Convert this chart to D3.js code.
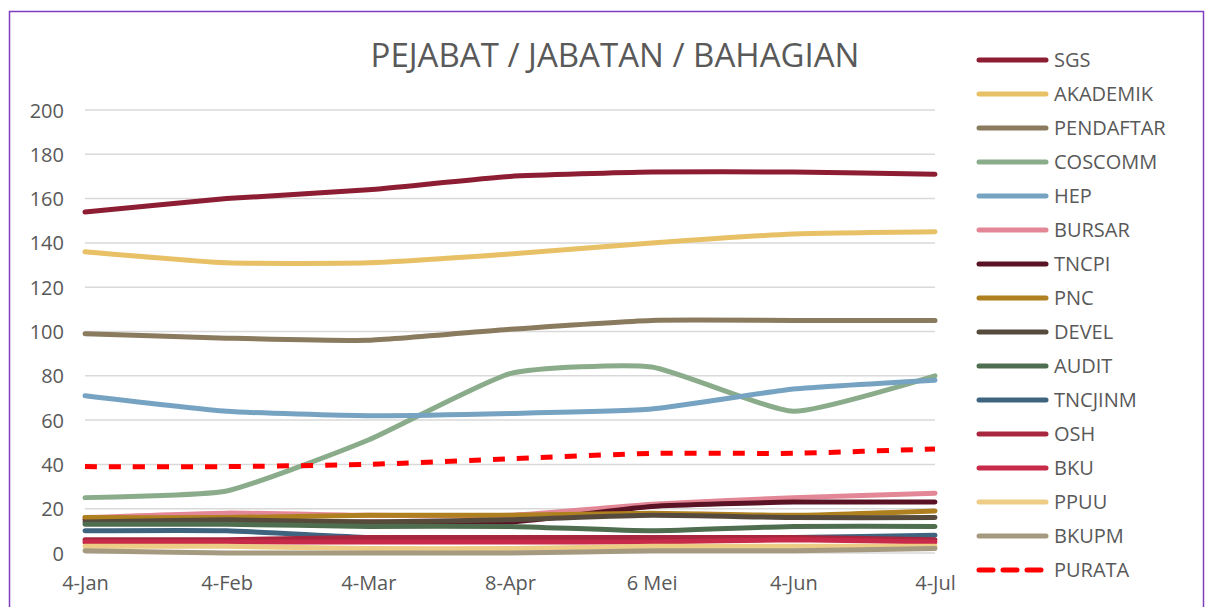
<!DOCTYPE html>
<html><head><meta charset="utf-8">
<script src="https://cdn.jsdelivr.net/npm/d3@7/dist/d3.min.js"></script>
<style>body{margin:0;background:#fff}svg{display:block}text{font-family:"Open Sans",sans-serif;fill:#595959}</style>
</head><body><svg id="c" width="1206" height="607"></svg>
<script>
const categories = ["4-Jan","4-Feb","4-Mar","8-Apr","6 Mei","4-Jun","4-Jul"];
const seriesNames = ["SGS","AKADEMIK","PENDAFTAR","COSCOMM","HEP","BURSAR","TNCPI","PNC","DEVEL","AUDIT","TNCJINM","OSH","BKU","PPUU","BKUPM","PURATA"];
const SGS       = [154,160,164,170,172,172,171];
const AKADEMIK  = [136,131,131,135,140,144,145];
const PENDAFTAR = [99,97,96,101,105,105,105];
const COSCOMM   = [25,28,51,81,84,64,80];
const HEP       = [71,64,62,63,65,74,78];
const BURSAR    = [16,18,17,17,22,25,27];
const TNCPI     = [15,14,14,14,21,23,23];
const PNC       = [16,16,17,17,18,17,19];
const DEVEL     = [14,15,14,15,17,16,16];
const AUDIT     = [13,13,12,12,10,12,12];
const TNCJINM   = [10,10,7,6,6,7,8];
const OSH       = [6,6,7,7,7,7,6];
const BKU       = [5,5,5,5,5,6,5];
const PPUU      = [3,3,2,2,3,3,3];
const BKUPM     = [1,0,0,0,1,1,2];
const PURATA    = [39,39,40,42.5,45,45,47];
const yTicks = [0,20,40,60,80,100,120,140,160,180,200];
const title = "PEJABAT / JABATAN / BAHAGIAN";

const seriesValues = [SGS,AKADEMIK,PENDAFTAR,COSCOMM,HEP,BURSAR,TNCPI,PNC,DEVEL,AUDIT,TNCJINM,OSH,BKU,PPUU,BKUPM,PURATA];
const colors = ["#8C1D33","#E8C066","#8A7A5E","#8AAC8B","#77A3C2","#E38796","#5A1324","#AE8020","#554A3C","#4E6E4F","#3F6480","#A8273F","#C82B49","#EDCD85","#A59980","#FF0000"];

const svg = d3.select("#c");
svg.append("rect").attr("x",9.5).attr("y",11.5).attr("width",1194).attr("height",620)
  .attr("fill","none").attr("stroke","#7F3FBF").attr("stroke-width",1.5);

const x = d3.scalePoint().domain(categories).range([85,935]);
const y = d3.scaleLinear().domain([0,200]).range([553,110]);

svg.append("g").selectAll("line").data(yTicks).join("line")
  .attr("x1",85).attr("x2",935).attr("y1",d=>y(d)).attr("y2",d=>y(d))
  .attr("stroke","#D9D9D9").attr("stroke-width",1.5);

const yAxis = d3.axisLeft(y).tickValues(yTicks).tickSize(0).tickPadding(0);
const gy = svg.append("g").attr("transform","translate(64,0)").call(yAxis);
gy.select(".domain").remove();
gy.selectAll("text").attr("font-size",20).style("font-family","Open Sans").attr("fill","#595959").attr("dy","0.35em");

const xAxis = d3.axisBottom(x).tickSize(0).tickPadding(0);
const gx = svg.append("g").attr("transform","translate(0,576)").call(xAxis);
gx.select(".domain").remove();
gx.selectAll("text").attr("font-size",20).style("font-family","Open Sans").attr("fill","#595959");

svg.append("text").attr("x",615).attr("y",67).attr("text-anchor","middle")
  .attr("font-size",33).text(title);

const line = d3.line().x((d,i)=>x(categories[i])).y(d=>y(d)).curve(d3.curveCardinal.tension(0.5));
seriesValues.forEach((vals,k)=>{
  const dashed = seriesNames[k]==="PURATA";
  svg.append("path").attr("d",line(vals)).attr("fill","none")
    .attr("stroke",colors[k]).attr("stroke-width",5)
    .attr("stroke-dasharray", dashed ? "12,12" : null)
    .attr("stroke-linecap", dashed ? "butt" : "round");
});

const lg = svg.append("g");
seriesNames.forEach((n,k)=>{
  const yy = 60 + k*34;
  lg.append("line").attr("x1",979).attr("x2",1046).attr("y1",yy).attr("y2",yy)
    .attr("stroke",colors[k]).attr("stroke-width",5).attr("stroke-linecap","round")
    .attr("stroke-dasharray", n==="PURATA" ? "14,10" : null);
  lg.append("text").attr("x",1054).attr("y",yy).attr("dy","0.35em").attr("font-size",20).text(n);
});
</script></body></html>
